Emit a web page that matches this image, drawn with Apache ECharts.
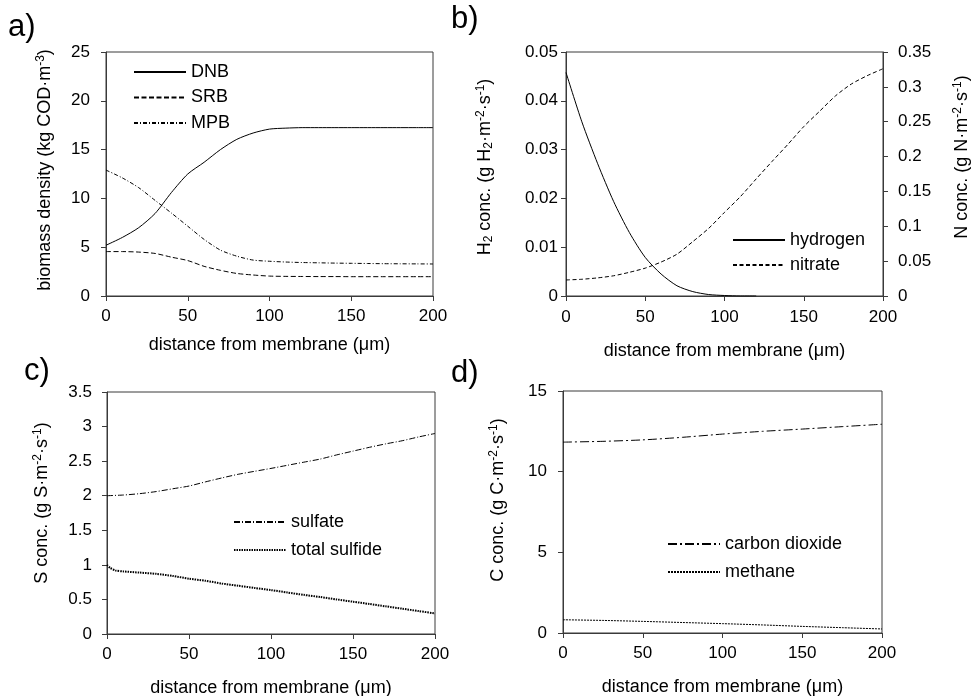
<!DOCTYPE html>
<html>
<head>
<meta charset="utf-8">
<script src="https://cdn.jsdelivr.net/npm/echarts@6/dist/echarts.min.js"></script>
<style>html,body{margin:0;padding:0;background:#fff}#c{width:971px;height:696px}</style>
</head>
<body>
<div id="c"></div>
<script>
// ---- data ----
const xA = [0,10,20,30,40,50,60,70,80,90,100,110,120,130,140,150,160,170,180,190,200];
const dnb = [5.2,6.0,7.0,8.45,10.6,12.5,13.7,15.0,16.05,16.7,17.1,17.2,17.25,17.25,17.25,17.25,17.25,17.25,17.25,17.25,17.25];
const srb = [4.55,4.55,4.5,4.36,3.98,3.63,3.04,2.63,2.31,2.15,2.04,2.01,2.0,1.99,1.99,1.98,1.98,1.98,1.98,1.98,1.98];
const mpb = [12.9,12.1,11.1,9.8,8.5,7.15,5.8,4.7,4.08,3.68,3.56,3.48,3.43,3.40,3.37,3.35,3.33,3.31,3.30,3.29,3.28];

const xH = [0,10,20,30,40,50,60,70,80,90,100,110,120];
const hydrogen = [0.0458,0.0357,0.0271,0.0194,0.0130,0.0079,0.0045,0.0021,0.0009,0.0003,0.0001,0,0];
const xN = [0,10,20,30,40,50,60,70,80,90,100,110,120,130,140,150,160,170,180,190,200];
const nitrate = [0.023,0.024,0.026,0.029,0.034,0.040,0.0487,0.060,0.078,0.097,0.120,0.1425,0.168,0.193,0.2175,0.243,0.265,0.287,0.304,0.316,0.326];

const xSO4 = [0,10,20,30,40,50,60,70,80,90,100,110,120,130,140,150,160,170,180,190,200];
const sulfate = [2.0,2.01,2.03,2.06,2.1,2.14,2.2,2.257,2.31,2.353,2.395,2.44,2.485,2.53,2.59,2.645,2.70,2.75,2.795,2.85,2.90];
const xHS = [0,2,5,10,20,30,40,50,60,70,80,90,100,110,120,130,140,150,160,170,180,190,200];
const sulfide = [1.0,0.955,0.92,0.905,0.888,0.87,0.84,0.80,0.77,0.73,0.698,0.666,0.635,0.60,0.566,0.535,0.50,0.467,0.434,0.40,0.366,0.332,0.298];

const xC = [0,25,50,75,100,125,150,175,200];
const co2 = [11.83,11.88,11.97,12.13,12.33,12.5,12.64,12.79,12.94];
const methane = [0.82,0.78,0.72,0.65,0.58,0.50,0.41,0.33,0.25];

const xTitle = 'distance from membrane (\u03bcm)';
const panelLabels = ['a)','b)','c)','d)'];

// ---- chart ----
const FONT = '"Liberation Sans", Arial, Helvetica, sans-serif';
const INK = '#000';
const FRAME = '#3a3a3a';
const pairs = (xs, ys) => xs.map((x, i) => [x, ys[i]]);

const rich = {
  sup: {fontSize: 12, fontFamily: FONT, color: INK, verticalAlign: 'top', lineHeight: 12},
  sub: {fontSize: 12, fontFamily: FONT, color: INK, verticalAlign: 'bottom', lineHeight: 12}
};

function xAxis(gi, labelMargin, nameGap) {
  return {
    type: 'value', gridIndex: gi, min: 0, max: 200, interval: 50,
    name: xTitle, nameLocation: 'middle', nameGap: nameGap,
    nameTextStyle: {fontSize: 18, fontFamily: FONT, color: INK},
    axisLine: {show: true, lineStyle: {color: FRAME, width: 1}},
    axisTick: {show: true, inside: false, length: 5, lineStyle: {color: FRAME}},
    axisLabel: {fontSize: 17, fontFamily: FONT, color: INK, margin: labelMargin},
    splitLine: {show: false}
  };
}
function yAxis(gi, max, interval, name, nameGap, labelMargin, position, pad) {
  return {
    type: 'value', gridIndex: gi, min: 0, max: max, interval: interval, position: position || 'left',
    name: name, nameLocation: 'middle', nameGap: nameGap, nameRotate: 90,
    nameTextStyle: {fontSize: 18, fontFamily: FONT, color: INK, lineHeight: 20, rich: rich, padding: [0, 0, 0, pad || 0]},
    axisLine: {show: true, lineStyle: {color: FRAME, width: 1}},
    axisTick: {show: true, inside: false, length: 5, lineStyle: {color: FRAME}},
    axisLabel: {fontSize: 17, fontFamily: FONT, color: INK, margin: labelMargin},
    splitLine: {show: false}
  };
}
function line(name, xi, yi, xs, ys, type, width) {
  return {
    name: name, type: 'line', xAxisIndex: xi, yAxisIndex: yi,
    data: pairs(xs, ys), showSymbol: false, symbol: 'none', smooth: 0.25,
    lineStyle: {color: INK, width: width || 1, type: type},
    itemStyle: {color: INK}, emphasis: {disabled: true}, animation: false
  };
}
function legend(names, left, top, gap) {
  return {
    data: names, orient: 'vertical', left: left, top: top, padding: 0,
    itemWidth: 52, itemHeight: 18, itemGap: gap, selectedMode: false,
    itemStyle: {opacity: 0, color: 'transparent', borderWidth: 0},
    textStyle: {fontSize: 18, fontFamily: FONT, color: INK, lineHeight: 18}
  };
}
const grid = (l, t, w, h) => ({left: l, top: t, width: w, height: h, show: true, borderColor: FRAME, borderWidth: 1, backgroundColor: 'transparent', containLabel: false, outerBoundsMode: 'none'});

const option = {
  backgroundColor: '#fff',
  animation: false,
  textStyle: {fontFamily: FONT},
  grid: [grid(106, 52, 327, 244), grid(566, 52, 317, 244), grid(107, 392, 328, 242), grid(563, 391, 319, 242)],
  xAxis: [xAxis(0, 12, 40), xAxis(1, 13, 46), xAxis(2, 12, 45), xAxis(3, 12, 45)],
  yAxis: [
    yAxis(0, 25, 5, 'biomass density (kg COD\u00b7m{sup|-3})', 51, 16, 'left', 8),
    yAxis(1, 0.05, 0.01, 'H{sub|2} conc. (g H{sub|2}\u00b7m{sup|-2}\u00b7s{sup|-1})', 71, 8, 'left', 14),
    yAxis(1, 0.35, 0.05, 'N conc. (g N\u00b7m{sup|-2}\u00b7s{sup|-1})', 69, 15, 'right', 34),
    yAxis(2, 3.5, 0.5, 'S conc. (g S\u00b7m{sup|-2}\u00b7s{sup|-1})', 55, 15, 'left', 20),
    yAxis(3, 15, 5, 'C conc. (g C\u00b7m{sup|-2}\u00b7s{sup|-1})', 55, 16, 'left', 24)
  ],
  legend: [
    legend(['DNB','SRB','MPB'], 133, 63, 7.5),
    legend(['hydrogen','nitrate'], 732, 231, 7),
    legend(['sulfate','total sulfide'], 233, 513, 10),
    legend(['carbon dioxide','methane'], 667, 535, 10)
  ],
  series: [
    line('DNB', 0, 0, xA, dnb, 'solid'),
    line('SRB', 0, 0, xA, srb, [5, 2.5]),
    line('MPB', 0, 0, xA, mpb, [4, 2, 1, 2]),
    line('hydrogen', 1, 1, xH, hydrogen, 'solid'),
    line('nitrate', 1, 2, xN, nitrate, [4, 2.5]),
    line('sulfate', 2, 3, xSO4, sulfate, [6, 2, 1, 2]),
    line('total sulfide', 2, 3, xHS, sulfide, [1.5, 1], 2),
    line('carbon dioxide', 3, 4, xC, co2, [9, 3, 2, 3]),
    line('methane', 3, 4, xC, methane, [2, 1])
  ],
  graphic: [
    {type: 'text', left: 8, top: 12, style: {text: panelLabels[0], fontSize: 31, fontFamily: FONT, fill: INK}},
    {type: 'text', left: 451, top: 4, style: {text: panelLabels[1], fontSize: 31, fontFamily: FONT, fill: INK}},
    {type: 'text', left: 24, top: 356, style: {text: panelLabels[2], fontSize: 31, fontFamily: FONT, fill: INK}},
    {type: 'text', left: 451, top: 358, style: {text: panelLabels[3], fontSize: 31, fontFamily: FONT, fill: INK}}
  ]
};
const chart = echarts.init(document.getElementById('c'), null, {renderer: 'canvas'});
chart.setOption(option);
</script>
</body>
</html>
